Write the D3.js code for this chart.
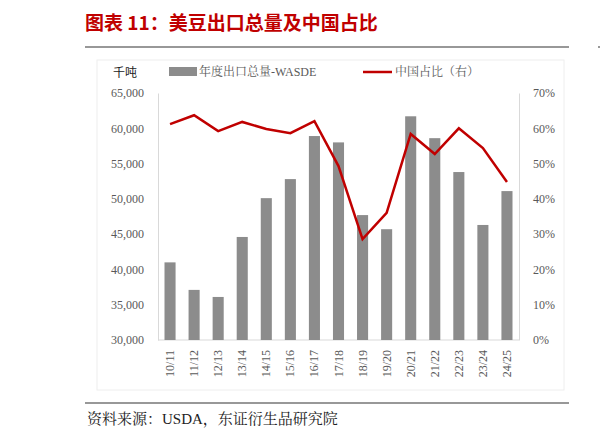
<!DOCTYPE html><html><head><meta charset="utf-8"><script src="https://cdn.jsdelivr.net/npm/d3@7"></script>
<style>body{margin:0;background:#fff}</style></head><body><svg id="c" width="600" height="441"></svg><script>
const categories=["10/11","11/12","12/13","13/14","14/15","15/16","16/17","17/18","18/19","19/20","20/21","21/22","22/23","23/24","24/25"];
const exports=[41000,37100,36100,44600,50100,52800,58900,58000,47700,45700,61700,58600,53800,46300,51100];
const chinaShare=[61.2,63.7,59.2,61.8,59.8,58.6,62,49.3,28.6,36,58.4,52.7,60,54.4,44.8];
const leftTicks=[30000,35000,40000,45000,50000,55000,60000,65000];
const rightTicks=[0,10,20,30,40,50,60,70];
const svg=d3.select("#c");
const serif="'Liberation Serif','Noto Serif CJK SC','Noto Sans CJK SC',serif";
const red="#c00000";
svg.append("text").attr("x",85).attr("y",30).attr("fill",red).attr("font-size",19).attr("font-weight","bold").attr("font-family","'Noto Sans CJK SC'").text("图表 11：美豆出口总量及中国占比");
svg.append("line").attr("x1",85).attr("x2",569).attr("y1",47).attr("y2",47).attr("stroke","#333").attr("stroke-width",1.2);
svg.append("line").attr("x1",598).attr("x2",600).attr("y1",47).attr("y2",47).attr("stroke","#333");
svg.append("line").attr("x1",85).attr("x2",569).attr("y1",403).attr("y2",403).attr("stroke","#333").attr("stroke-width",1.2);
svg.append("text").attr("x",87).attr("y",424).attr("font-size",15).attr("font-family",serif).attr("fill","#222").text("资料来源：USDA，东证衍生品研究院");
svg.append("rect").attr("x",97).attr("y",60).attr("width",467).attr("height",330).attr("fill","none").attr("stroke","#eee");
const x=d3.scaleBand().domain(categories).range([158,519]).paddingInner(0.54).paddingOuter(0.27);
const yl=d3.scaleLinear().domain([30000,65000]).range([340,93]);
const yr=d3.scaleLinear().domain([0,70]).range([340,93]);
const gl=svg.append("g").attr("transform","translate(158,0)").call(d3.axisLeft(yl).tickValues(leftTicks).tickSize(0).tickPadding(14).tickFormat(d3.format(",")));
const gr=svg.append("g").attr("transform","translate(519,0)").call(d3.axisRight(yr).tickValues(rightTicks).tickSize(0).tickPadding(14).tickFormat(d=>d+"%"));
[gl,gr].forEach(g=>{g.select(".domain").attr("stroke","#d9d9d9");g.selectAll("text").attr("font-family",serif).attr("font-size",12).attr("fill","#595959");});
svg.append("line").attr("x1",158).attr("x2",519).attr("y1",340).attr("y2",340).attr("stroke","#d9d9d9");
svg.selectAll(".b").data(exports).join("rect").attr("x",(d,i)=>x(categories[i])).attr("width",x.bandwidth()).attr("y",d=>yl(d)).attr("height",d=>340-yl(d)).attr("fill","#8c8c8c");
svg.append("path").datum(chinaShare).attr("d",d3.line().x((d,i)=>x(categories[i])+x.bandwidth()/2).y(d=>yr(d))).attr("fill","none").attr("stroke",red).attr("stroke-width",2.5);
categories.forEach(c=>{svg.append("text").attr("transform",`translate(${x(c)+x.bandwidth()/2+4},350) rotate(-90)`).attr("text-anchor","end").attr("font-family",serif).attr("font-size",12).attr("fill","#595959").text(c);});
svg.append("text").attr("x",113).attr("y",77).attr("font-size",12).attr("font-family","'Noto Sans CJK SC'").attr("fill","#222").text("千吨");
svg.append("rect").attr("x",169).attr("y",67).attr("width",28).attr("height",9).attr("fill","#8c8c8c");
svg.append("text").attr("x",199).attr("y",76).attr("font-size",12).attr("font-family",serif).attr("fill","#595959").text("年度出口总量-WASDE");
svg.append("line").attr("x1",363).attr("x2",392).attr("y1",72).attr("y2",72).attr("stroke",red).attr("stroke-width",2.5);
svg.append("text").attr("x",395).attr("y",76).attr("font-size",12).attr("font-family",serif).attr("fill","#595959").text("中国占比（右）");
</script></body></html>
